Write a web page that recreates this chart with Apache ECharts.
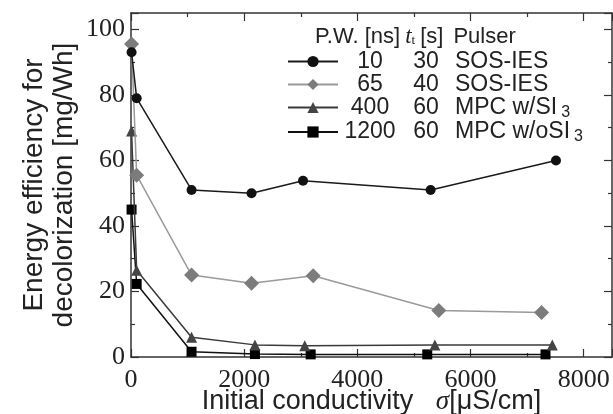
<!DOCTYPE html>
<html>
<head>
<meta charset="utf-8">
<script src="https://cdn.jsdelivr.net/npm/echarts@6/dist/echarts.min.js"></script>
<style>
  html, body { margin: 0; padding: 0; background: #fff; }
  #chart { width: 613px; height: 414px; }
</style>
</head>
<body>
<div id="chart"></div>
<script>
// legend columns
const pulseWidths = ['10', '65', '400', '1200']
const treatTimes = ['30', '40', '60', '60']
const pulsers = ['SOS-IES', 'SOS-IES', 'MPC w/SI', 'MPC w/oSI']
const pulserSub = ['', '', '3', '3']

// initial conductivity [uS/cm] and efficiency [mg/Wh] per series
const sigma10 = [10, 100, 1070, 2130, 3040, 5295, 7510]
const eff10 = [93, 79, 51, 50, 53.8, 51, 60]
const sigma65 = [10, 100, 1070, 2130, 3220, 5440, 7255]
const eff65 = [95.5, 55.5, 25, 22.5, 24.8, 14.2, 13.6]
const sigma400 = [10, 100, 1070, 2190, 3070, 5370, 7445]
const eff400 = [69, 26.5, 6, 3.7, 3.4, 3.7, 3.7]
const sigma1200 = [10, 100, 1070, 2190, 3175, 5235, 7325]
const eff1200 = [45, 22.3, 1.6, 0.9, 0.8, 0.8, 0.8]

const zip = (xs, ys) => xs.map((x, i) => [x, ys[i]])

const chart = echarts.init(document.getElementById('chart'))

const sans = '"Liberation Sans", Arial, sans-serif'
const serif = '"Liberation Serif", "Times New Roman", serif'
const axisColor = '#333'

const frameAxis = {
  axisLine: { show: true, onZero: false, lineStyle: { color: axisColor, width: 1.5 } },
  axisTick: { show: true, inside: true, length: 8, lineStyle: { color: axisColor, width: 1.2 } },
  minorTick: { show: true, splitNumber: 2, length: 4, lineStyle: { color: axisColor, width: 1.2 } },
  splitLine: { show: false }
}

const xBase = { type: 'value', min: 0, max: 8500, interval: 2000 }
const yBase = { type: 'value', min: 0, max: 105, interval: 20 }

const seriesStyle = [
  { symbol: 'circle', size: 10, line: '#1a1a1a', mark: '#111' },
  { symbol: 'diamond', size: 15, line: '#9a9a9a', mark: '#7c7c7c' },
  { symbol: 'triangle', size: 11, line: '#3a3a3a', mark: '#444' },
  { symbol: 'rect', size: 10, line: '#111', mark: '#000' }
]
const seriesData = [zip(sigma10, eff10), zip(sigma65, eff65), zip(sigma400, eff400), zip(sigma1200, eff1200)]

const option = {
  animation: false,
  grid: { left: 131, right: 1, top: 13, bottom: 57, outerBoundsMode: 'none' },
  title: {
    left: 310,
    top: 20,
    text: '{a|P.W. [ns]} {t|t}{ts|t} {a|[s]}  {a|Pulser}',
    textStyle: {
      fontWeight: 'normal',
      rich: {
        a: { fontFamily: sans, fontSize: 22, color: '#222', fontWeight: 'normal' },
        t: { fontFamily: serif, fontStyle: 'italic', fontSize: 23, color: '#222', fontWeight: 'normal' },
        ts: { fontFamily: serif, fontSize: 13, color: '#222', padding: [8, 0, 0, 0], fontWeight: 'normal' }
      }
    }
  },
  legend: {
    orient: 'vertical',
    left: 282,
    top: 45,
    itemWidth: 50,
    itemHeight: 14,
    itemGap: 0,
    data: pulseWidths,
    formatter: name => {
      const i = pulseWidths.indexOf(name)
      let s = `{a|${pulseWidths[i]}}{b|${treatTimes[i]}}{c|${pulsers[i]}}`
      if (pulserSub[i]) s += `{sub|${pulserSub[i]}}`
      return s
    },
    textStyle: {
      rich: {
        a: { fontFamily: sans, fontSize: 23, color: '#222', width: 54, align: 'center', lineHeight: 24 },
        b: { fontFamily: sans, fontSize: 23, color: '#222', width: 58, align: 'center', lineHeight: 24 },
        c: { fontFamily: sans, fontSize: 23, color: '#222', lineHeight: 24 },
        sub: { fontFamily: sans, fontSize: 16, color: '#222', padding: [10, 0, 0, 4] }
      }
    }
  },
  xAxis: [
    {
      ...xBase,
      ...frameAxis,
      position: 'bottom',
      axisLabel: { fontFamily: serif, fontSize: 26, color: '#222', margin: 10, formatter: v => String(v) },
      name: 'Initial conductivity   {s|σ}[μS/cm]',
      nameLocation: 'middle',
      nameMoveOverlap: false,
      nameGap: 32,
      nameTextStyle: {
        fontFamily: sans, fontSize: 27, color: '#222', lineHeight: 26,
        rich: { s: { fontFamily: serif, fontStyle: 'italic', fontSize: 27, color: '#222', lineHeight: 26 } }
      }
    },
    { ...xBase, ...frameAxis, position: 'top', axisLabel: { show: false } }
  ],
  yAxis: [
    {
      ...yBase,
      ...frameAxis,
      position: 'left',
      axisLabel: { fontFamily: serif, fontSize: 26, color: '#222', margin: 6 },
      name: 'Energy efficiency for\ndecolorization [mg/Wh]',
      nameLocation: 'middle',
      nameMoveOverlap: false,
      nameRotate: 90,
      nameGap: 52,
      nameTextStyle: { fontFamily: sans, fontSize: 28, color: '#222', lineHeight: 30 }
    },
    { ...yBase, ...frameAxis, position: 'right', axisLabel: { show: false } }
  ],
  series: seriesData.map((d, i) => ({
    name: pulseWidths[i],
    type: 'line',
    data: d,
    clip: false,
    symbol: seriesStyle[i].symbol,
    symbolSize: seriesStyle[i].size,
    lineStyle: { color: seriesStyle[i].line, width: 1.5 },
    itemStyle: { color: seriesStyle[i].mark },
    z: 4 - i
  }))
}

chart.setOption(option)
</script>
</body>
</html>
